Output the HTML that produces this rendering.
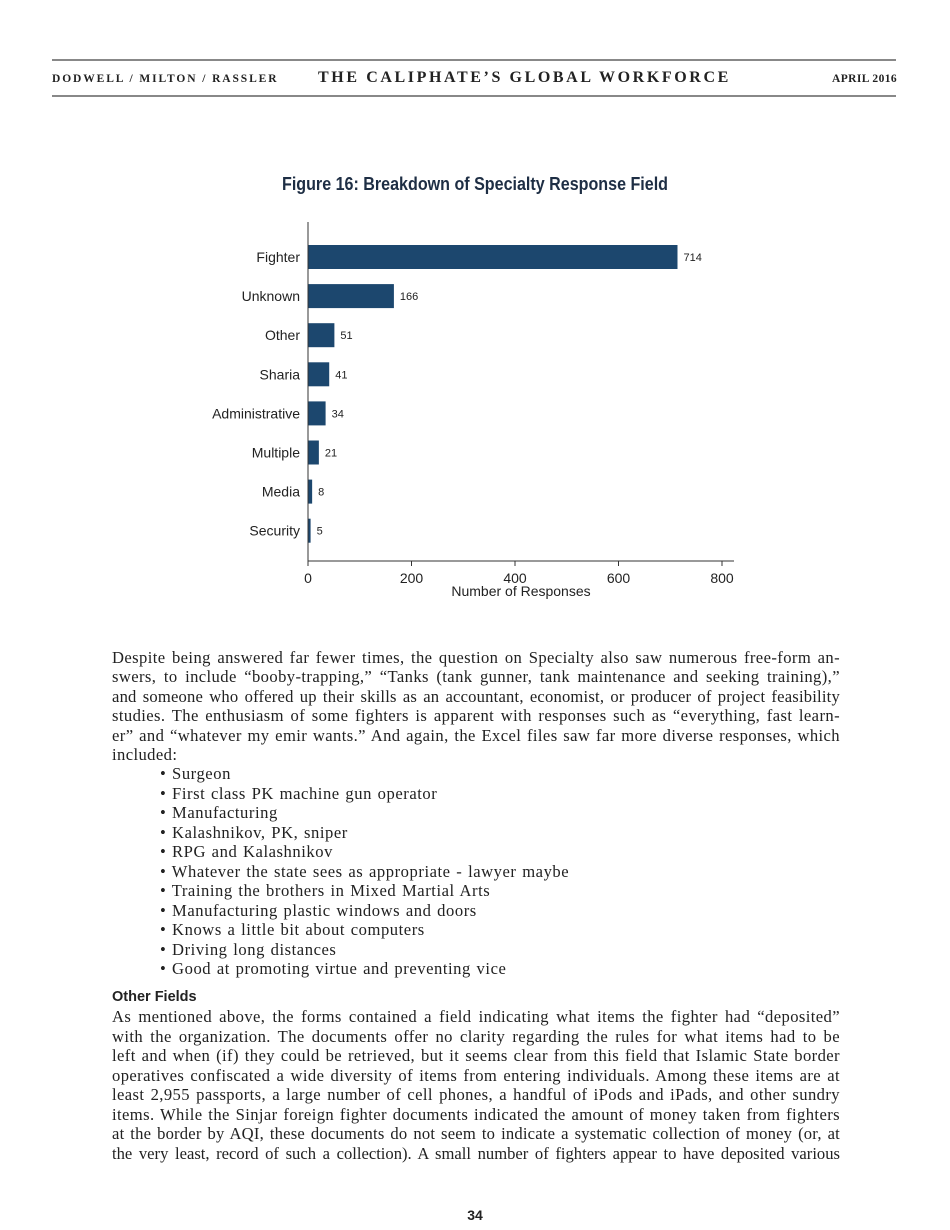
<!DOCTYPE html>
<html><head><meta charset="utf-8">
<style>
body{margin:0;background:#fff;}
#page{position:relative;width:950px;height:1230px;overflow:hidden;background:#fff;color:#222;}
.hr{position:absolute;left:52px;width:844px;background:#888;}
.hd{position:absolute;top:71px;font-family:"Liberation Serif",serif;font-weight:bold;color:#222;white-space:nowrap;}
.ln{position:absolute;left:112px;width:728px;font-family:"Liberation Serif",serif;font-size:16.6px;letter-spacing:0.4px;line-height:20px;height:20px;white-space:nowrap;color:#222;text-align:justify;text-align-last:justify;}
.ln.l{text-align-last:left;}
.bl{position:absolute;left:160px;font-family:"Liberation Serif",serif;font-size:16.6px;letter-spacing:0.55px;word-spacing:1px;line-height:20px;white-space:nowrap;color:#222;}
</style></head><body>
<div id="page">
<div class="hr" style="top:59px;height:2px"></div>
<div class="hd" style="left:52px;font-size:11.5px;top:73px;letter-spacing:1.9px">DODWELL / MILTON / RASSLER</div>
<div class="hd" style="left:318px;font-size:16px;top:69px;letter-spacing:2.6px">THE CALIPHATE’S GLOBAL WORKFORCE</div>
<div class="hd" style="left:832px;font-size:11.5px;top:73px;letter-spacing:0.4px">APRIL 2016</div>
<div class="hr" style="top:95px;height:1.5px"></div>

<svg id="chart" width="950" height="620" style="position:absolute;left:0;top:0"></svg>

<div class="ln" style="top:648px">Despite being answered far fewer times, the question on Specialty also saw numerous free-form an-</div>
<div class="ln" style="top:667px">swers, to include “booby-trapping,” “Tanks (tank gunner, tank maintenance and seeking training),”</div>
<div class="ln" style="top:687px;letter-spacing:0.2px">and someone who offered up their skills as an accountant, economist, or producer of project feasibility</div>
<div class="ln" style="top:706px">studies. The enthusiasm of some fighters is apparent with responses such as “everything, fast learn-</div>
<div class="ln" style="top:726px">er” and “whatever my emir wants.” And again, the Excel files saw far more diverse responses, which</div>
<div class="ln l" style="top:745px">included:</div>

<div class="bl" style="top:764px">• Surgeon</div>
<div class="bl" style="top:784px">• First class PK machine gun operator</div>
<div class="bl" style="top:803px">• Manufacturing</div>
<div class="bl" style="top:823px">• Kalashnikov, PK, sniper</div>
<div class="bl" style="top:842px">• RPG and Kalashnikov</div>
<div class="bl" style="top:862px">• Whatever the state sees as appropriate - lawyer maybe</div>
<div class="bl" style="top:881px">• Training the brothers in Mixed Martial Arts</div>
<div class="bl" style="top:901px">• Manufacturing plastic windows and doors</div>
<div class="bl" style="top:920px">• Knows a little bit about computers</div>
<div class="bl" style="top:940px">• Driving long distances</div>
<div class="bl" style="top:959px">• Good at promoting virtue and preventing vice</div>

<div style="position:absolute;left:112px;top:989px;font-family:'Liberation Sans',sans-serif;font-weight:bold;font-size:14.5px;color:#222">Other Fields</div>

<div class="ln" style="top:1007px">As mentioned above, the forms contained a field indicating what items the fighter had “deposited”</div>
<div class="ln" style="top:1027px">with the organization. The documents offer no clarity regarding the rules for what items had to be</div>
<div class="ln" style="top:1046px">left and when (if) they could be retrieved, but it seems clear from this field that Islamic State border</div>
<div class="ln" style="top:1066px">operatives confiscated a wide diversity of items from entering individuals. Among these items are at</div>
<div class="ln" style="top:1085px">least 2,955 passports, a large number of cell phones, a handful of iPods and iPads, and other sundry</div>
<div class="ln" style="top:1105px">items. While the Sinjar foreign fighter documents indicated the amount of money taken from fighters</div>
<div class="ln" style="top:1124px;letter-spacing:0.2px">at the border by AQI, these documents do not seem to indicate a systematic collection of money (or, at</div>
<div class="ln" style="top:1144px;letter-spacing:0px">the very least, record of such a collection). A small number of fighters appear to have deposited various</div>

<div style="position:absolute;left:0;width:950px;text-align:center;top:1207px;font-family:'Liberation Sans',sans-serif;font-weight:bold;font-size:14px;color:#222">34</div>
</div>
<script>
const categories=["Fighter","Unknown","Other","Sharia","Administrative","Multiple","Media","Security"];
const values=[714,166,51,41,34,21,8,5];
const xTicks=[0,200,400,600,800];
const NS="http://www.w3.org/2000/svg";
const svg=document.getElementById('chart');
const x0=308,xPer=0.5175,yTop=257,yStep=39.1,barH=24,axisY=561;
const xs=v=>x0+v*xPer;
const ys=i=>yTop+i*yStep;
function mk(t,a,txt){const e=document.createElementNS(NS,t);for(const k in a)e.setAttribute(k,a[k]);if(txt!==undefined)e.textContent=txt;svg.appendChild(e);return e;}
let e;
e=mk('text',{x:282,y:190,'font-family':'Liberation Sans, sans-serif','font-weight':'bold','font-size':'18',fill:'#1e2e44',textLength:386,lengthAdjust:'spacingAndGlyphs'},'Figure 16: Breakdown of Specialty Response Field');


categories.forEach((c,i)=>{
  const b=mk('rect',{x:x0,y:ys(i)-barH/2,width:xs(values[i])-x0,height:barH,fill:'#1c476e'});
  
  
  const l=mk('text',{x:x0-8,y:ys(i)+5,'text-anchor':'end','font-family':'Liberation Sans, sans-serif','font-size':'14',fill:'#222'},c);
  
  
  const v=mk('text',{x:xs(values[i])+6,y:ys(i)+4,'font-family':'Liberation Sans, sans-serif','font-size':'11',fill:'#222'},values[i]);
  
  
});
e=mk('line',{x1:x0,y1:222,x2:x0,y2:axisY,stroke:'#333','stroke-width':1});


e=mk('line',{x1:x0,y1:axisY,x2:734,y2:axisY,stroke:'#333','stroke-width':1});


xTicks.forEach(t=>{
  const tk=mk('line',{x1:xs(t),y1:axisY,x2:xs(t),y2:axisY+5,stroke:'#333','stroke-width':1});
  
  
  const tl=mk('text',{x:xs(t),y:axisY+22,'text-anchor':'middle','font-family':'Liberation Sans, sans-serif','font-size':'14',fill:'#222'},t);
  
  
});
e=mk('text',{x:521,y:596,'text-anchor':'middle','font-family':'Liberation Sans, sans-serif','font-size':'14',fill:'#222'},'Number of Responses');


</script>
</body></html>
